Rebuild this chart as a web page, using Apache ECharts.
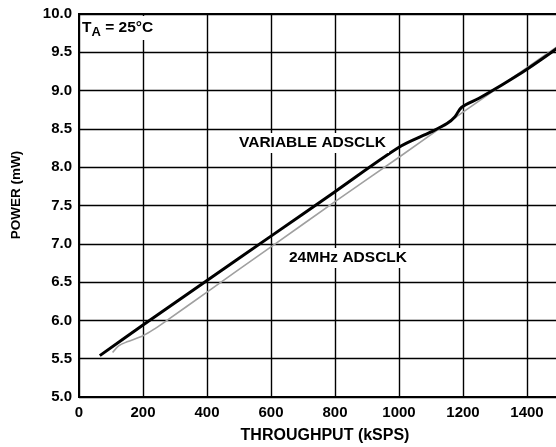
<!DOCTYPE html>
<html>
<head>
<meta charset="utf-8">
<script src="https://cdn.jsdelivr.net/npm/echarts@6/dist/echarts.min.js"></script>
<style>
  html, body { margin: 0; padding: 0; background: #fff; }
  #main { width: 556px; height: 447px; }
</style>
</head>
<body>
<div id="main"></div>
<script>
// throughput (kSPS) and power (mW)
var variableX = [65, 200, 400, 600, 800, 1000, 1100, 1150, 1175, 1195, 1250, 1300, 1400, 1500];
var variableY = [5.54, 5.94, 6.52, 7.10, 7.68, 8.26, 8.46, 8.57, 8.66, 8.78, 8.90, 9.02, 9.28, 9.57];
var fixedX = [105, 125, 150, 200, 240, 275, 400, 600, 800, 1000, 1200, 1400, 1500];
var fixedY = [5.58, 5.67, 5.72, 5.80, 5.90, 6.00, 6.37, 6.96, 7.55, 8.13, 8.72, 9.30, 9.59];
var xTicks = [0, 200, 400, 600, 800, 1000, 1200, 1400];

function pairs(xs, ys) {
  return xs.map(function (x, i) { return [x, ys[i]]; });
}

var font = 'Liberation Sans, Arial, sans-serif';
var chart = echarts.init(document.getElementById('main'));

var option = {
  animation: false,
  backgroundColor: '#fff',
  grid: {
    left: 79, top: 14, right: -3, bottom: 50,
    outerBoundsMode: 'none',
    show: true, borderColor: '#000', borderWidth: 2
  },
  xAxis: {
    type: 'value', min: 0, max: 1500, interval: 200,
    axisLine: { show: true, lineStyle: { color: '#000', width: 2 } },
    axisTick: { show: false },
    axisLabel: {
      color: '#000', fontFamily: font, fontWeight: 'bold', fontSize: 15, margin: 8,
      showMaxLabel: false,
      formatter: function (v) { return xTicks.indexOf(v) >= 0 ? String(v) : ''; }
    },
    splitLine: { show: true, lineStyle: { color: '#000', width: 1.4 } }
  },
  yAxis: {
    type: 'value', min: 5, max: 10, interval: 0.5,
    axisLine: { show: true, lineStyle: { color: '#000', width: 2 } },
    axisTick: { show: false },
    axisLabel: {
      color: '#000', fontFamily: font, fontWeight: 'bold', fontSize: 15, margin: 7,
      formatter: function (v) { return v.toFixed(1); }
    },
    splitLine: { show: true, lineStyle: { color: '#000', width: 1.4 } }
  },
  series: [
    {
      name: '24MHz ADSCLK', type: 'line', data: pairs(fixedX, fixedY),
      smooth: 0.3, showSymbol: false, z: 3,
      lineStyle: { color: '#a0a0a0', width: 1.6 }
    },
    {
      name: 'VARIABLE ADSCLK', type: 'line', data: pairs(variableX, variableY),
      smooth: 0.3, showSymbol: false, z: 4,
      lineStyle: { color: '#000', width: 3 }
    }
  ],
  graphic: [
    {
      type: 'rect', left: 81, top: 16, z: 10,
      shape: { width: 82, height: 24 },
      style: { fill: '#fff' }
    },
    {
      type: 'text', left: 82, top: 20, z: 11,
      style: {
        text: '{b|T}{s|A}{b| = 25°C}',
        rich: {
          b: { fontFamily: font, fontWeight: 'bold', fontSize: 15.5, fill: '#000' },
          s: { fontFamily: font, fontWeight: 'bold', fontSize: 13, fill: '#000', padding: [9, 0, 0, 0] }
        }
      }
    },
    {
      type: 'text', x: 236, y: 143, z: 11,
      style: {
        text: 'VARIABLE ADSCLK', fontFamily: font, fontWeight: 'bold', fontSize: 15.5,
        fill: '#000', verticalAlign: 'middle', align: 'left',
        backgroundColor: '#fff', padding: [2, 3, 2, 3]
      }
    },
    {
      type: 'text', x: 286, y: 258, z: 11,
      style: {
        text: '24MHz ADSCLK', fontFamily: font, fontWeight: 'bold', fontSize: 15.5,
        fill: '#000', verticalAlign: 'middle', align: 'left',
        backgroundColor: '#fff', padding: [2, 3, 2, 3]
      }
    },
    {
      type: 'text', x: 325, y: 436, z: 11,
      style: {
        text: 'THROUGHPUT (kSPS)', fontFamily: font, fontWeight: 'bold', fontSize: 16,
        fill: '#000', verticalAlign: 'middle', align: 'center'
      }
    },
    {
      type: 'text', x: 16, y: 195, rotation: Math.PI / 2, z: 11,
      style: {
        text: 'POWER (mW)', fontFamily: font, fontWeight: 'bold', fontSize: 13.5,
        fill: '#000', verticalAlign: 'middle', align: 'center'
      }
    }
  ]
};

chart.setOption(option);
</script>
</body>
</html>
